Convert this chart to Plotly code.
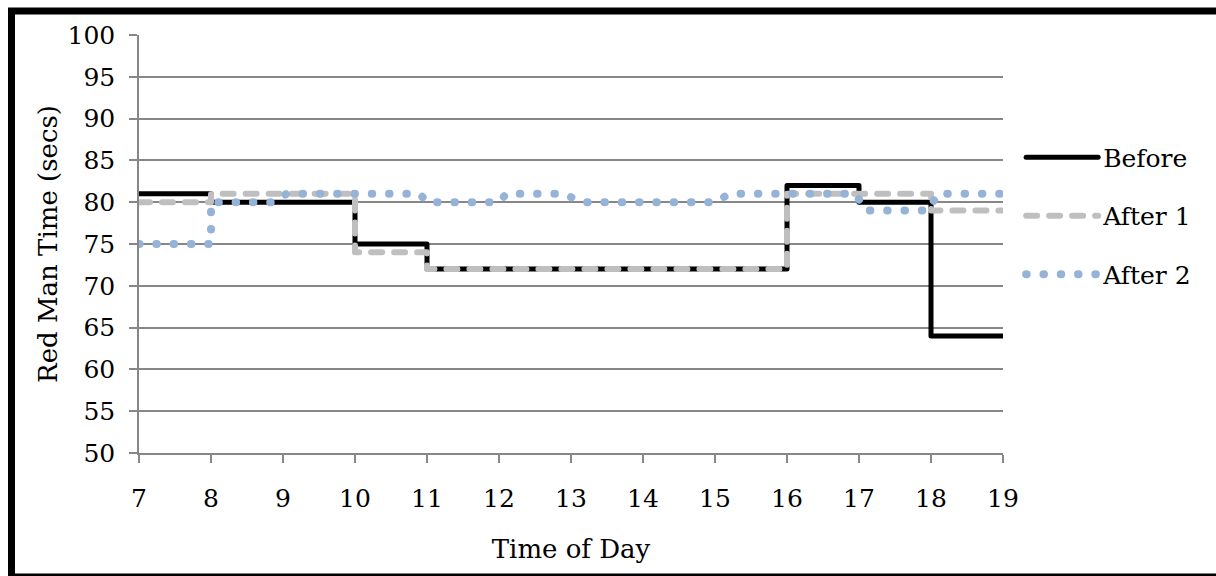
import plotly.graph_objects as go

# ---- data ----
before_x = [7, 8, 10, 11, 16, 17, 18, 19]
before_y = [81, 80, 75, 72, 82, 80, 64, 64]

after1_x = [7, 8, 10, 11, 16, 18, 19]
after1_y = [80, 81, 74, 72, 81, 79, 79]

after2_x = [7, 8, 8, 8.85, 9.05, 10.9, 11, 12, 12.1, 12.9, 13.15, 15, 15.2, 16.95, 17.1, 17.95, 18.1, 19]
after2_y = [75, 75, 80, 80, 81, 81, 80, 80, 81, 81, 80, 80, 81, 81, 79, 79, 81, 81]

x_ticks = list(range(7, 20))
y_ticks = list(range(50, 101, 5))

FONT = "DejaVu Serif"
GRID = "#878787"

fig = go.Figure()
fig.add_trace(go.Scatter(x=before_x, y=before_y, mode="lines", name="Before",
                         line=dict(color="black", width=5, shape="hv"),
                         legendgroup="a"))
fig.add_trace(go.Scatter(x=after1_x, y=after1_y, mode="lines", name="After 1",
                         line=dict(color="#bfbfbf", width=6, shape="hv", dash="11px,12px"),
                         legendgroup="b"))
fig.add_trace(go.Scatter(x=after2_x, y=after2_y, mode="lines", name="After 2",
                         line=dict(color="#95b3d7", width=8, dash="0.5px,16.8px"),
                         legendgroup="c"))

fig.update_layout(
    width=1216, height=576,
    margin=dict(l=139, r=213, t=35, b=123, pad=0),
    paper_bgcolor="white", plot_bgcolor="white",
    font=dict(family=FONT, size=25, color="black"),
    showlegend=True,
    legend=dict(x=1.021, xanchor="left", y=0.762, yanchor="top",
                traceorder="grouped", tracegroupgap=23, itemwidth=72,
                bgcolor="rgba(0,0,0,0)", borderwidth=0,
                font=dict(family=FONT, size=25)),
    xaxis=dict(range=[7, 19], tickvals=x_ticks, showgrid=False, zeroline=False,
               showline=True, linecolor=GRID, linewidth=1.5,
               ticks="outside", ticklen=8, tickcolor=GRID, tickwidth=1.5,
               ticklabelstandoff=14,
               title=dict(text="Time of Day", font=dict(size=26), standoff=28)),
    yaxis=dict(range=[50, 100], tickvals=y_ticks, showgrid=True, gridcolor=GRID,
               gridwidth=1.5, zeroline=False,
               showline=True, linecolor=GRID, linewidth=1.5,
               ticks="outside", ticklen=8, tickcolor=GRID, tickwidth=1.5,
               ticklabelstandoff=9,
               title=dict(text="Red Man Time (secs)", font=dict(size=26), standoff=2)),
    shapes=[dict(type="rect", xref="paper", yref="paper",
                 x0=(11.5 - 139) / 864, x1=(1240 - 139) / 864,
                 y0=-(577 - 453) / 418, y1=1 + (35 - 11) / 418,
                 line=dict(color="black", width=7), fillcolor="rgba(0,0,0,0)",
                 layer="above")],
)

post = """
document.querySelectorAll('.js-line').forEach(function(p){
  p.style.strokeLinecap='round'; p.style.strokeLinejoin='round';
});
"""
fig.write_html("out.html", post_script=post)
